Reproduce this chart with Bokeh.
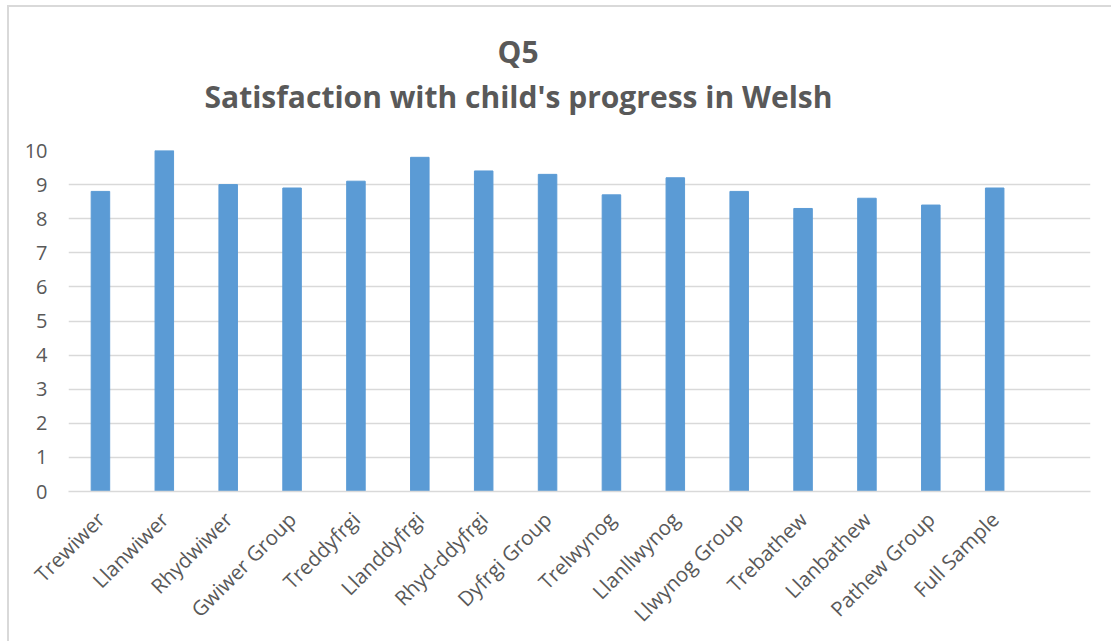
import math
from bokeh.plotting import figure
from bokeh.models import Range1d, FixedTicker, Title, ColumnDataSource
from bokeh.embed import file_html
from bokeh.resources import INLINE

categories = ["Trewiwer", "Llanwiwer", "Rhydwiwer", "Gwiwer Group", "Treddyfrgi",
              "Llanddyfrgi", "Rhyd-ddyfrgi", "Dyfrgi Group", "Trelwynog", "Llanllwynog",
              "Llwynog Group", "Trebathew", "Llanbathew", "Pathew Group", "Full Sample"]
values = [8.8, 10.0, 9.0, 8.9, 9.1, 9.8, 9.4, 9.3, 8.7, 9.2, 8.8, 8.3, 8.6, 8.4, 8.9]
y_ticks = [0, 1, 2, 3, 4, 5, 6, 7, 8, 9, 10]
title_line1 = "Q5"
title_line2 = "Satisfaction with child's progress in Welsh"

FONT = "Open Sans"
TXT = "#595959"
GRID = "#D9D9D9"

positions = list(range(1, len(categories) + 1))
src = ColumnDataSource(dict(x=positions, top=values, name=categories))

p = figure(width=1104, height=636, output_backend="svg", toolbar_location=None,
           x_range=Range1d(0.5, len(categories) + 1.5), y_range=Range1d(0, 10),
           min_border_left=59, min_border_right=23, min_border_top=143,
           min_border_bottom=152, background_fill_color="white",
           border_fill_color="white", outline_line_color=None,
           styles={"margin-left": "7px", "margin-top": "5px",
                   "border-left": "2px solid #D9D9D9",
                   "border-top": "2px solid #D9D9D9"})

p.vbar(x="x", top="top", width=0.29, source=src, fill_color="#5B9BD5",
       line_color="#5B9BD5")

# Title: spacer panel next to the frame, then line 2, then line 1
spacer = Title(text=" ", text_font_size="1px", standoff=31)
t2 = Title(text=title_line2, align="left", offset=136, text_font=FONT,
           text_font_size="30px", text_font_style="bold", text_color=TXT,
           standoff=0)
t1 = Title(text=title_line1, align="left", offset=429, text_font=FONT,
           text_font_size="30px", text_font_style="bold", text_color=TXT,
           standoff=4)
p.add_layout(spacer, "above")
p.add_layout(t2, "above")
p.add_layout(t1, "above")

p.xaxis.ticker = FixedTicker(ticks=positions)
p.xaxis.major_label_overrides = {i: c for i, c in zip(positions, categories)}
p.xaxis.major_label_orientation = math.pi / 4
p.xaxis.major_tick_line_color = None
p.xaxis.minor_tick_line_color = None
p.xaxis.axis_line_color = GRID
p.xaxis.axis_line_width = 1.5
p.xaxis.major_label_text_font = FONT
p.xaxis.major_label_text_font_size = "20.5px"
p.xaxis.major_label_text_color = TXT
p.xaxis.major_label_standoff = 18

p.yaxis.ticker = FixedTicker(ticks=y_ticks)
p.yaxis.major_tick_line_color = None
p.yaxis.minor_tick_line_color = None
p.yaxis.axis_line_color = None
p.yaxis.major_label_text_font = FONT
p.yaxis.major_label_text_font_size = "20px"
p.yaxis.major_label_text_color = TXT
p.yaxis.major_label_standoff = 15

p.xgrid.grid_line_color = None
p.ygrid.grid_line_color = GRID
p.ygrid.grid_line_width = 1.5

open("out.html", "w").write(file_html(p, INLINE))
